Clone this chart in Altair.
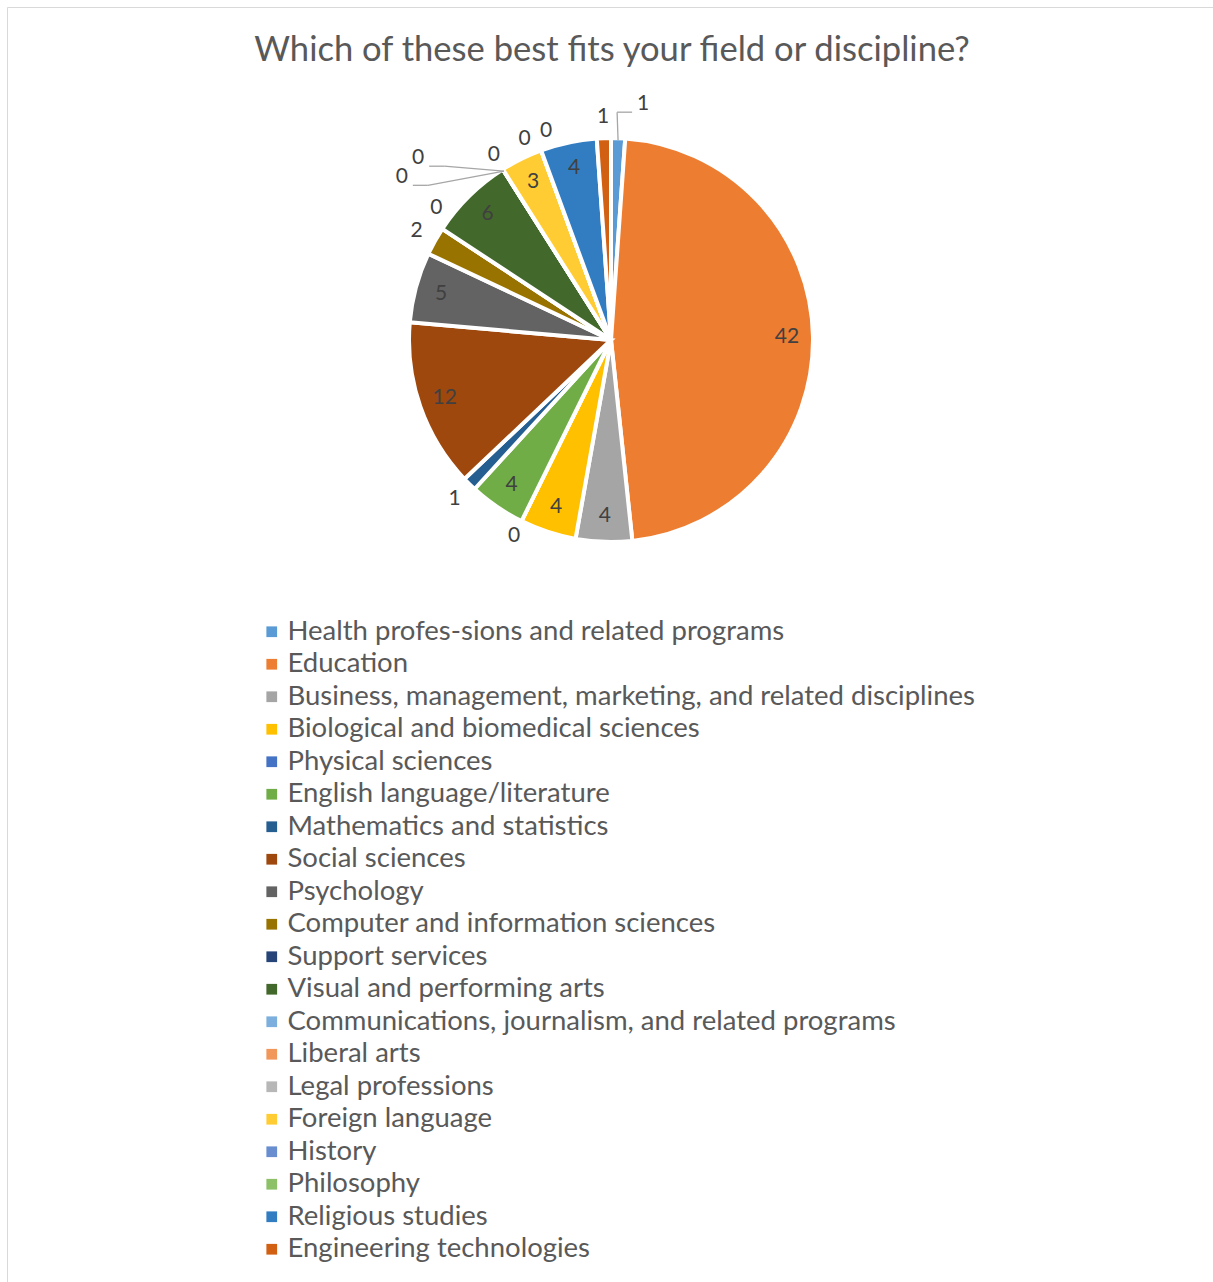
import altair as alt
import pandas as pd

title_text = "Which of these best fits your field or discipline?"

categories = [
    "Health profes-sions and related programs",
    "Education",
    "Business, management, marketing, and related disciplines",
    "Biological and biomedical sciences",
    "Physical sciences",
    "English language/literature",
    "Mathematics and statistics",
    "Social sciences",
    "Psychology",
    "Computer and information sciences",
    "Support services",
    "Visual and performing arts",
    "Communications, journalism, and related programs",
    "Liberal arts",
    "Legal professions",
    "Foreign language",
    "History",
    "Philosophy",
    "Religious studies",
    "Engineering technologies",
]
counts = [1, 42, 4, 4, 0, 4, 1, 12, 5, 2, 0, 6, 0, 0, 0, 3, 0, 0, 4, 1]
colors = [
    "#5B9BD5", "#ED7D31", "#A5A5A5", "#FFC000", "#4472C4",
    "#70AD47", "#255E91", "#9E480E", "#636363", "#997300",
    "#264478", "#43682B", "#7CAFDD", "#F1975A", "#B7B7B7",
    "#FFCD33", "#698ED0", "#8CC168", "#327DC2", "#D26012",
]

df = pd.DataFrame({"category": categories, "count": counts, "idx": list(range(len(categories)))})

W, H = 1213, 1282
CX, CY, R = 611, 340, 202
R_IN, R_OUT, R_FAR, R_FIRST = 176, 223, 265, 238
FONT = "Lato"

base = alt.Chart(df)

pie = base.mark_arc(outerRadius=R, stroke="white", strokeWidth=4).encode(
    theta=alt.Theta("count:Q", stack=True),
    order=alt.Order("idx:Q", sort="ascending"),
    color=alt.Color(
        "category:N",
        scale=alt.Scale(domain=categories, range=colors),
        sort=categories,
        legend=alt.Legend(
            title=None,
            orient="none",
            legendX=258,
            legendY=618,
            direction="vertical",
            symbolType="square",
            symbolSize=115,
            symbolStrokeWidth=0,
            labelFont=FONT,
            labelFontSize=27.5,
            labelColor="#595959",
            labelOffset=2,
            labelLimit=1000,
            rowPadding=3.5,
            padding=0,
        ),
    ),
    x=alt.value(CX),
    y=alt.value(CY),
)

FAR = "(datum.zero == 1 && datum.n >= 3 && datum.rank < datum.n)"
FIRST = "(datum.idx == 0 && datum.count > 0 && datum.count < 3)"

placed = (
    base.transform_joinaggregate(total="sum(count)")
    .transform_window(cum="sum(count)", sort=[alt.SortField("idx")], frame=[None, 0])
    .transform_window(prev="lag(count)", sort=[alt.SortField("idx")])
    .transform_calculate(start="datum.cum - datum.count", zero="datum.count == 0 ? 1 : 0")
    .transform_window(
        rank="row_number()", groupby=["start", "zero"], sort=[alt.SortField("idx")]
    )
    .transform_joinaggregate(n="count()", groupby=["start", "zero"])
    .transform_calculate(
        ang0="((datum.start + datum.count / 2) / datum.total) * 2 * PI",
        pushed=f"({FAR} || {FIRST}) ? 1 : 0",
    )
    .transform_calculate(
        ang=f"{FAR} ? datum.ang0 - 0.25 - (datum.rank - 1) * 0.095"
        " : (datum.zero == 1 && datum.n == 2) ? datum.ang0 + (datum.rank - 1.5) * 0.105"
        " : (datum.zero == 1 && datum.prev > 0 && datum.prev < 3) ? datum.ang0 + 0.065"
        f" : {FIRST} ? datum.ang0 + 0.1"
        " : datum.ang0",
        rad=f"datum.count >= 3 ? {R_IN} : {FAR} ? {R_FAR} : {FIRST} ? {R_FIRST}"
        f" : datum.zero == 1 ? {R_OUT - 4} : {R_OUT}",
    )
    .transform_calculate(
        lx=f"{CX} + datum.rad * sin(datum.ang)",
        ly=f"{CY} - datum.rad * cos(datum.ang)",
        side="sin(datum.ang) < 0 ? -1 : 1",
        ex=f"{CX} + {R - 2} * sin(datum.ang0)",
        ey=f"{CY} - {R - 2} * cos(datum.ang0)",
    )
    .transform_calculate(
        p1x="datum.lx - datum.side * 11",
        p1y="datum.ly + 8",
    )
    .transform_calculate(p2x="datum.p1x - datum.side * 15")
)

labels = placed.mark_text(
    font=FONT, fontSize=21, color="#404040", align="center", baseline="middle"
).encode(
    x=alt.X("lx:Q", scale=None),
    y=alt.Y("ly:Q", scale=None),
    text="count:Q",
)

leader_a = placed.transform_filter("datum.pushed == 1").mark_rule(
    color="#A6A6A6", strokeWidth=1.3
).encode(
    x=alt.X("p1x:Q", scale=None),
    y=alt.Y("p1y:Q", scale=None),
    x2="p2x:Q",
    y2="p1y:Q",
)

leader_b = placed.transform_filter("datum.pushed == 1").mark_rule(
    color="#A6A6A6", strokeWidth=1.3
).encode(
    x=alt.X("p2x:Q", scale=None),
    y=alt.Y("p1y:Q", scale=None),
    x2="ex:Q",
    y2="ey:Q",
)

title = alt.Chart(pd.DataFrame({"t": [title_text]})).mark_text(
    font=FONT, fontSize=34.6, color="#595959", align="center", baseline="middle"
).encode(x=alt.value(612), y=alt.value(51), text="t:N")

frame = alt.Chart(pd.DataFrame({"a": [0]})).mark_rect(
    fillOpacity=0, stroke="#D9D9D9", strokeWidth=1
).encode(x=alt.value(7.5), y=alt.value(7.5), x2=alt.value(W + 50), y2=alt.value(H + 50))

chart = (
    alt.layer(frame, pie, leader_a, leader_b, labels, title)
    .properties(width=W, height=H, padding=0, autosize=alt.AutoSizeParams(type="none"))
    .configure_view(stroke=None)
)

chart.save("out.html", embed_options={"renderer": "svg", "actions": False})
